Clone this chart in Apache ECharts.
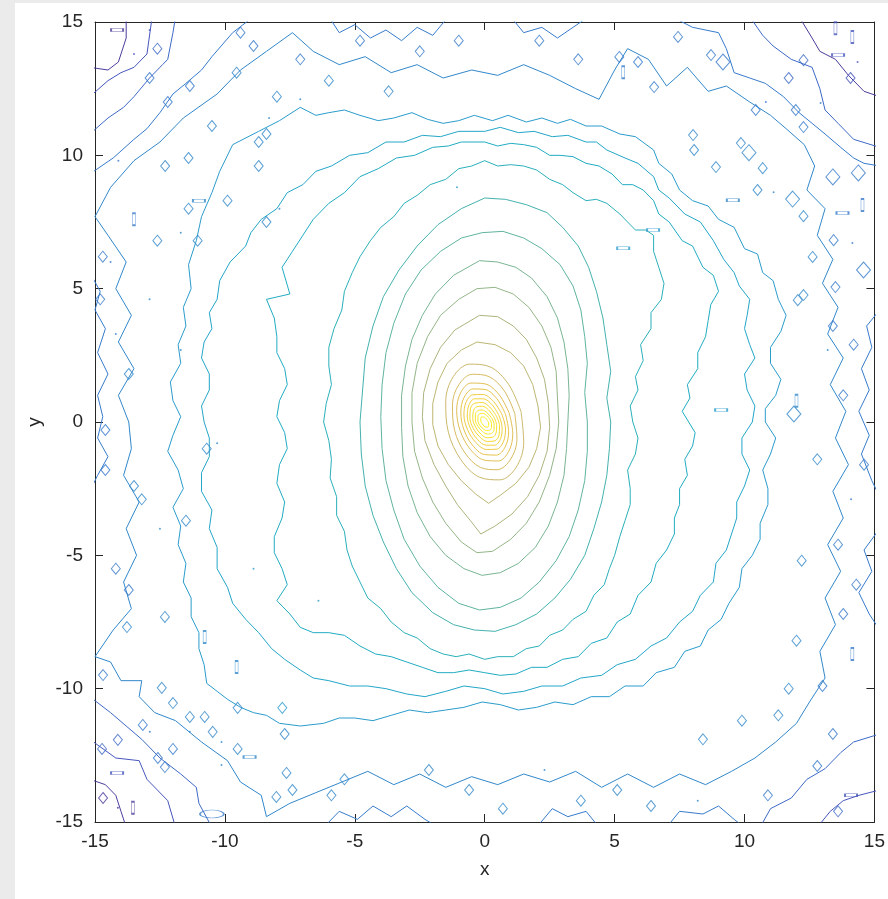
<!DOCTYPE html>
<html><head><meta charset="utf-8">
<script src="https://cdn.jsdelivr.net/npm/echarts@6/dist/echarts.min.js"></script>
<style>
html,body{margin:0;padding:0;background:#ebebeb;width:888px;height:899px;overflow:hidden}
#c{position:absolute;left:15px;top:3px;width:873px;height:896px;background:#ffffff}
</style>
</head><body><div id="c"></div>
<script>
// ---------- axis ticks ----------
const xTicks = [-15, -10, -5, 0, 5, 10, 15];
const yTicks = [-15, -10, -5, 0, 5, 10, 15];

// ---------- contour lines (data coords) ----------
const I1 = [[0.10,0.06],[0.03,0.15],[-0.05,0.19],[-0.12,0.19],[-0.15,0.13],[-0.15,0.04],[-0.10,-0.06],[-0.03,-0.15],[0.05,-0.19],[0.12,-0.19],[0.15,-0.13],[0.15,-0.04],[0.10,0.06]];
const I2 = [[0.19,0.12],[0.07,0.25],[-0.07,0.32],[-0.19,0.31],[-0.26,0.21],[-0.26,0.05],[-0.19,-0.12],[-0.07,-0.25],[0.07,-0.32],[0.19,-0.31],[0.26,-0.21],[0.26,-0.05],[0.19,0.12]];
const I3 = [[0.26,0.16],[0.09,0.35],[-0.10,0.45],[-0.27,0.42],[-0.36,0.29],[-0.36,0.07],[-0.26,-0.16],[-0.09,-0.35],[0.10,-0.45],[0.27,-0.42],[0.36,-0.29],[0.36,-0.07],[0.26,0.16]];
const I4 = [[0.35,0.19],[0.15,0.45],[-0.09,0.59],[-0.31,0.57],[-0.44,0.40],[-0.46,0.13],[-0.35,-0.19],[-0.15,-0.45],[0.09,-0.59],[0.31,-0.57],[0.44,-0.40],[0.46,-0.13],[0.35,0.19]];
const I5 = [[0.44,0.24],[0.19,0.56],[-0.10,0.73],[-0.38,0.71],[-0.55,0.50],[-0.57,0.15],[-0.44,-0.24],[-0.19,-0.56],[0.10,-0.73],[0.38,-0.71],[0.55,-0.50],[0.57,-0.15],[0.44,0.24]];
const I6 = [[0.55,0.24],[0.28,0.65],[-0.06,0.87],[-0.39,0.87],[-0.61,0.63],[-0.67,0.22],[-0.55,-0.24],[-0.28,-0.65],[0.06,-0.87],[0.39,-0.87],[0.61,-0.63],[0.67,-0.22],[0.55,0.24]];
const I7 = [[0.66,0.29],[0.34,0.77],[-0.07,1.03],[-0.46,1.02],[-0.72,0.74],[-0.80,0.26],[-0.66,-0.29],[-0.34,-0.77],[0.07,-1.03],[0.46,-1.02],[0.72,-0.74],[0.80,-0.26],[0.66,0.29]];
const I8 = [[0.80,0.29],[0.47,0.87],[0.01,1.22],[-0.45,1.24],[-0.79,0.93],[-0.92,0.37],[-0.80,-0.29],[-0.47,-0.87],[-0.01,-1.22],[0.45,-1.24],[0.79,-0.93],[0.92,-0.37],[0.80,0.29]];
const I9 = [[0.94,0.34],[0.55,1.03],[0.01,1.43],[-0.53,1.46],[-0.93,1.09],[-1.08,0.43],[-0.94,-0.34],[-0.55,-1.03],[-0.01,-1.43],[0.53,-1.46],[0.93,-1.09],[1.08,-0.43],[0.94,0.34]];
const I10 = [[1.16,0.31],[0.76,1.16],[0.17,1.70],[-0.48,1.79],[-1.00,1.39],[-1.24,0.63],[-1.16,-0.31],[-0.76,-1.16],[-0.17,-1.70],[0.48,-1.79],[1.00,-1.39],[1.24,-0.63],[1.16,0.31]];
const I11 = [[1.40,0.38],[0.92,1.41],[0.20,2.07],[-0.58,2.17],[-1.21,1.70],[-1.50,0.76],[-1.40,-0.38],[-0.92,-1.41],[-0.20,-2.07],[0.58,-2.17],[1.21,-1.70],[1.50,-0.76],[1.40,0.38]];

const M9 = [[-0.3,3.0],[0.4,2.9],[1.0,2.6],[1.5,2.1],[1.85,1.4],[2.05,0.6],[2.15,-0.2],[2.0,-1.0],[1.7,-1.7],[1.2,-2.3],[0.6,-2.75],[0.15,-3.05],[-0.35,-2.7],[-0.9,-2.2],[-1.4,-1.6],[-1.8,-0.9],[-2.0,-0.1],[-2.0,0.7],[-1.8,1.5],[-1.45,2.2],[-0.9,2.7],[-0.3,3.0]];
const M8 = [[-0.2,4.0],[0.5,3.95],[1.1,3.6],[1.6,3.1],[2.0,2.4],[2.3,1.6],[2.45,0.7],[2.5,-0.2],[2.4,-1.1],[2.1,-2.0],[1.65,-2.8],[1.05,-3.45],[0.4,-3.9],[-0.15,-4.2],[-0.55,-3.7],[-1.05,-3.1],[-1.5,-2.4],[-1.95,-1.6],[-2.3,-0.7],[-2.4,0.2],[-2.35,1.1],[-2.1,2.0],[-1.7,2.8],[-1.15,3.45],[-0.2,4.0]];
const M7 = [[-0.3,5.0],[0.4,5.05],[1.1,4.8],[1.7,4.3],[2.2,3.6],[2.55,2.8],[2.75,1.9],[2.8,0.9],[2.85,0.0],[2.75,-1.0],[2.5,-2.0],[2.1,-3.0],[1.6,-3.8],[1.0,-4.4],[0.3,-4.85],[-0.3,-4.9],[-0.9,-4.5],[-1.5,-3.8],[-2.0,-3.0],[-2.4,-2.1],[-2.7,-1.1],[-2.8,0.0],[-2.8,1.1],[-2.6,2.2],[-2.2,3.2],[-1.7,4.0],[-1.0,4.6],[-0.3,5.0]];
const M6 = [[-0.2,6.05],[0.5,6.0],[1.2,5.8],[1.8,5.4],[2.4,4.7],[2.8,3.9],[3.05,3.0],[3.2,2.0],[3.25,1.0],[3.2,0.0],[3.15,-1.0],[3.05,-2.0],[2.8,-3.0],[2.45,-3.9],[1.95,-4.7],[1.3,-5.3],[0.6,-5.65],[-0.1,-5.75],[-0.8,-5.5],[-1.5,-5.0],[-2.1,-4.3],[-2.6,-3.4],[-2.95,-2.4],[-3.15,-1.3],[-3.2,-0.2],[-3.2,1.0],[-3.05,2.1],[-2.8,3.1],[-2.4,4.0],[-1.9,4.8],[-1.2,5.5],[-0.2,6.05]];
const M5 = [[-0.1,7.1],[0.7,7.15],[1.5,6.9],[2.2,6.5],[2.9,5.9],[3.4,5.1],[3.7,4.2],[3.85,3.2],[3.95,2.2],[3.85,1.1],[3.95,0.0],[3.95,-1.1],[3.85,-2.2],[3.6,-3.3],[3.25,-4.3],[2.75,-5.2],[2.1,-6.0],[1.4,-6.6],[0.6,-6.95],[-0.2,-7.05],[-1.0,-6.8],[-1.8,-6.2],[-2.5,-5.4],[-3.1,-4.4],[-3.5,-3.3],[-3.8,-2.2],[-3.95,-1.0],[-4.0,0.2],[-3.95,1.4],[-3.8,2.6],[-3.5,3.7],[-3.05,4.8],[-2.45,5.7],[-1.7,6.4],[-0.9,6.9],[-0.1,7.1]];
const M4 = [[0.0,8.4],[0.8,8.35],[1.6,8.15],[2.4,7.85],[3.0,7.3],[3.6,6.6],[4.0,5.8],[4.3,4.9],[4.55,3.9],[4.7,2.9],[4.85,1.9],[4.7,0.9],[4.85,0.0],[4.8,-1.0],[4.7,-2.0],[4.5,-3.0],[4.2,-4.0],[3.85,-5.0],[3.3,-5.9],[2.7,-6.6],[2.0,-7.2],[1.2,-7.6],[0.4,-7.85],[-0.4,-7.8],[-1.2,-7.6],[-2.0,-7.15],[-2.8,-6.4],[-3.4,-5.5],[-3.9,-4.5],[-4.3,-3.5],[-4.6,-2.4],[-4.75,-1.2],[-4.8,0.0],[-4.7,1.2],[-4.6,2.4],[-4.3,3.6],[-3.9,4.7],[-3.3,5.7],[-2.6,6.6],[-1.8,7.4],[-0.9,8.0],[0.0,8.4]];
const M3 = [[0.0,9.8],[0.5,9.6],[1.0,9.65],[1.5,9.6],[2.0,9.45],[2.5,9.1],[3.0,8.9],[3.4,8.6],[3.9,8.3],[4.3,8.35],[4.7,8.2],[5.2,7.8],[5.8,7.2],[6.2,7.2],[6.5,7.0],[6.5,6.4],[6.7,5.8],[6.9,5.2],[6.8,4.6],[6.4,4.1],[6.4,3.5],[6.0,2.9],[6.1,2.3],[5.8,1.7],[5.9,1.2],[5.6,0.6],[5.7,0.0],[5.9,-0.6],[5.8,-1.2],[5.5,-1.8],[5.6,-2.5],[5.6,-3.1],[5.4,-3.7],[5.2,-4.3],[5.0,-5.0],[4.8,-5.5],[4.6,-6.1],[4.2,-6.5],[3.9,-7.1],[3.4,-7.4],[3.0,-7.8],[2.5,-8.0],[2.1,-8.4],[1.6,-8.5],[1.1,-8.8],[0.5,-8.8],[0.0,-8.9],[-0.6,-8.7],[-1.1,-8.8],[-1.6,-8.7],[-2.1,-8.5],[-2.6,-8.1],[-3.1,-7.9],[-3.6,-7.5],[-4.0,-7.0],[-4.5,-6.6],[-4.8,-6.0],[-5.1,-5.4],[-5.3,-4.8],[-5.4,-4.1],[-5.7,-3.5],[-5.7,-2.8],[-5.95,-2.1],[-5.9,-1.4],[-6.0,-0.7],[-6.2,0.0],[-6.1,0.7],[-5.9,1.4],[-6.0,2.1],[-6.0,2.8],[-5.8,3.5],[-5.5,4.2],[-5.4,4.9],[-5.1,5.6],[-4.8,6.2],[-4.4,6.8],[-4.0,7.3],[-3.5,7.7],[-3.1,8.2],[-2.6,8.5],[-2.1,8.9],[-1.5,9.1],[-1.0,9.5],[-0.5,9.6],[0.0,9.8]];
const M2 = [[0.0,10.5],[0.5,10.35],[1.0,10.45],[1.5,10.4],[2.0,10.3],[2.5,10.0],[2.9,10.0],[3.4,9.95],[3.9,9.7],[4.4,9.6],[4.9,9.3],[5.3,8.9],[5.7,8.9],[6.1,8.7],[6.5,8.3],[6.7,7.8],[7.1,7.5],[7.6,6.8],[8.0,6.6],[8.4,5.8],[8.8,5.5],[9.0,4.9],[8.7,4.4],[8.6,3.8],[8.5,3.2],[8.2,2.6],[8.2,2.0],[7.8,1.4],[7.9,0.9],[7.6,0.4],[8.1,-0.4],[8.0,-0.9],[7.7,-1.4],[7.8,-2.0],[7.5,-2.5],[7.5,-3.1],[7.3,-3.6],[7.3,-4.2],[7.0,-4.8],[6.6,-5.3],[6.4,-6.0],[5.9,-6.5],[5.6,-7.2],[5.1,-7.5],[4.7,-8.1],[4.1,-8.3],[3.6,-8.8],[3.0,-8.9],[2.4,-9.2],[1.8,-9.2],[1.2,-9.45],[0.6,-9.5],[0.0,-9.4],[-0.6,-9.3],[-1.2,-9.4],[-1.8,-9.4],[-2.4,-9.2],[-3.0,-9.0],[-3.6,-8.8],[-4.2,-8.7],[-4.8,-8.4],[-5.4,-8.0],[-6.0,-7.9],[-6.6,-7.9],[-7.1,-7.7],[-7.5,-7.2],[-8.0,-6.7],[-7.6,-6.1],[-7.8,-5.5],[-8.1,-4.9],[-8.1,-4.3],[-7.8,-3.6],[-7.7,-3.0],[-8.0,-2.3],[-7.9,-1.6],[-7.6,-1.0],[-7.7,-0.4],[-8.0,0.2],[-7.9,0.8],[-7.6,1.4],[-7.7,2.0],[-8.0,2.6],[-8.0,3.2],[-8.1,3.9],[-8.4,4.6],[-7.5,4.8],[-7.8,5.8],[-7.4,6.4],[-7.0,7.0],[-6.6,7.6],[-6.0,8.2],[-5.4,8.6],[-4.8,9.2],[-4.1,9.5],[-3.4,9.9],[-2.7,10.0],[-2.0,10.3],[-1.4,10.35],[-0.9,10.5],[0.0,10.5]];
const M1 = [[0.0,10.9],[0.6,11.05],[1.3,10.85],[1.9,10.9],[2.6,10.7],[3.2,10.75],[3.9,10.5],[4.3,10.5],[4.7,10.2],[5.4,9.9],[5.9,9.7],[6.5,9.2],[6.7,8.7],[7.1,8.4],[7.7,7.8],[8.3,7.5],[8.8,6.8],[9.2,6.1],[9.6,5.6],[9.8,5.1],[10.2,4.6],[10.1,4.0],[10.0,3.5],[10.2,2.9],[10.4,2.4],[10.0,1.8],[10.1,1.2],[10.4,0.6],[10.3,0.0],[9.9,-0.6],[9.9,-1.2],[10.2,-1.8],[10.0,-2.4],[9.7,-3.0],[9.7,-3.6],[9.5,-4.2],[9.3,-4.8],[8.9,-5.3],[8.8,-6.0],[8.3,-6.5],[8.0,-7.1],[7.5,-7.5],[7.0,-8.1],[6.4,-8.4],[5.8,-8.9],[5.1,-9.1],[4.5,-9.5],[3.7,-9.6],[3.0,-9.9],[2.2,-9.9],[1.5,-10.1],[0.7,-10.2],[0.0,-10.0],[-0.8,-9.9],[-1.5,-10.1],[-2.3,-10.3],[-3.0,-10.2],[-3.8,-10.0],[-4.5,-9.9],[-5.2,-9.9],[-6.0,-9.7],[-6.6,-9.6],[-7.1,-9.3],[-7.7,-8.9],[-8.2,-8.5],[-8.7,-7.9],[-9.2,-7.4],[-9.7,-6.8],[-9.9,-6.2],[-10.3,-5.5],[-10.3,-4.7],[-10.6,-4.0],[-10.5,-3.3],[-10.9,-2.6],[-10.9,-1.9],[-10.6,-1.3],[-10.6,-0.6],[-10.8,0.0],[-10.9,0.6],[-10.6,1.2],[-10.6,1.8],[-10.9,2.4],[-10.8,3.0],[-10.5,3.5],[-10.6,4.1],[-10.3,4.6],[-10.2,5.3],[-9.8,6.0],[-9.2,6.6],[-9.0,7.1],[-8.6,7.6],[-8.0,8.0],[-7.6,8.6],[-7.0,8.9],[-6.5,9.4],[-5.9,9.6],[-5.2,10.0],[-4.5,10.1],[-3.8,10.5],[-3.1,10.5],[-2.4,10.75],[-1.7,10.7],[-1.0,10.9],[0.0,10.9]];
const M0 = [[0.3,11.3],[0.9,11.5],[1.6,11.25],[2.2,11.4],[2.8,11.2],[3.3,11.35],[3.9,11.1],[4.5,11.1],[5.2,10.8],[5.8,10.7],[6.5,10.2],[6.7,9.7],[7.2,9.3],[7.5,8.7],[8.0,8.3],[8.6,8.1],[9.0,7.6],[9.6,7.3],[10.0,6.5],[10.5,6.3],[10.7,5.6],[11.1,5.3],[11.3,4.6],[11.6,4.0],[11.4,3.4],[11.0,2.8],[11.0,2.2],[11.4,1.6],[11.2,1.0],[10.8,0.5],[10.8,0.0],[11.2,-0.6],[11.0,-1.2],[10.7,-1.8],[10.9,-2.5],[10.9,-3.1],[10.6,-3.8],[10.6,-4.4],[10.3,-5.0],[9.9,-5.5],[9.8,-6.2],[9.4,-6.8],[9.1,-7.4],[8.6,-7.8],[8.3,-8.4],[7.7,-8.6],[7.3,-9.2],[6.6,-9.4],[6.1,-9.9],[5.4,-9.9],[4.8,-10.3],[4.1,-10.3],[3.4,-10.6],[2.7,-10.5],[2.0,-10.7],[1.3,-10.8],[0.6,-10.6],[-0.1,-10.5],[-0.8,-10.7],[-1.5,-10.8],[-2.2,-10.9],[-2.9,-10.8],[-3.6,-11.0],[-4.3,-11.2],[-5.0,-11.1],[-5.6,-11.1],[-6.2,-11.3],[-7.1,-11.4],[-7.9,-11.3],[-8.4,-11.0],[-8.9,-10.9],[-9.4,-10.7],[-9.9,-10.4],[-10.3,-10.1],[-10.7,-9.8],[-10.8,-9.1],[-11.0,-8.5],[-11.0,-7.9],[-11.3,-7.3],[-11.3,-6.6],[-11.6,-6.0],[-11.5,-5.3],[-11.8,-4.6],[-11.7,-3.9],[-12.0,-3.2],[-11.6,-2.5],[-11.8,-1.8],[-12.2,-1.1],[-12.0,-0.5],[-11.7,0.2],[-12.0,0.8],[-12.1,1.5],[-11.7,2.2],[-11.8,2.9],[-11.5,3.6],[-11.6,4.3],[-11.3,5.0],[-11.4,5.9],[-11.1,6.8],[-10.9,7.7],[-10.5,8.6],[-10.2,9.4],[-9.7,10.4],[-8.7,10.9],[-7.9,11.3],[-7.1,11.8],[-6.5,11.5],[-6.0,11.6],[-5.4,11.7],[-4.8,11.5],[-4.1,11.3],[-3.5,11.4],[-2.8,11.6],[-2.2,11.35],[-1.6,11.2],[-1.0,11.3],[-0.4,11.5],[0.3,11.3]];
const O1 = [[-15.0,7.7],[-14.4,8.8],[-13.5,9.8],[-12.5,10.5],[-11.6,11.4],[-10.3,12.3],[-9.4,13.2],[-8.4,13.9],[-7.4,14.6],[-6.6,13.9],[-5.6,13.4],[-4.6,13.7],[-3.6,13.1],[-2.6,13.4],[-1.6,12.9],[-0.5,13.2],[0.5,13.0],[1.5,13.4],[2.5,13.0],[3.5,12.5],[4.4,12.1],[5.0,13.2],[5.5,14.0],[6.3,13.6],[7.0,12.6],[7.8,13.3],[8.6,12.4],[9.3,12.6],[10.2,12.0],[11.0,11.5],[11.6,11.0],[12.3,10.4],[12.7,9.6],[12.4,8.7],[13.1,8.0],[12.8,7.0],[13.4,6.1],[13.0,5.2],[13.6,4.3],[13.2,3.3],[13.8,2.4],[13.3,1.4],[13.9,0.4],[13.5,-0.6],[14.0,-1.6],[13.4,-2.6],[13.8,-3.6],[13.2,-4.6],[13.7,-5.6],[13.1,-6.6],[13.5,-7.6],[12.9,-8.6],[13.1,-9.6],[12.5,-10.5],[12.0,-11.3],[11.2,-12.0],[10.4,-12.6],[9.5,-13.1],[8.5,-13.6],[7.5,-13.2],[6.5,-13.7],[5.5,-13.2],[4.5,-13.7],[3.5,-13.1],[2.5,-13.5],[1.5,-13.2],[0.5,-13.6],[-0.5,-13.3],[-1.5,-13.7],[-2.5,-13.2],[-3.5,-13.6],[-4.5,-13.1],[-5.5,-13.5],[-6.5,-13.9],[-7.5,-14.3],[-8.4,-14.8],[-8.6,-14.0],[-9.4,-13.5],[-9.9,-12.7],[-10.9,-12.0],[-11.9,-11.2],[-12.7,-10.9],[-13.3,-10.3],[-13.2,-9.7],[-14.0,-9.7],[-14.4,-9.0],[-15.0,-8.8],[-14.3,-7.8],[-13.6,-7.0],[-13.9,-6.0],[-13.4,-5.0],[-13.8,-4.0],[-13.3,-3.0],[-13.9,-2.0],[-13.6,-1.0],[-13.7,0.0],[-14.1,1.0],[-13.5,2.0],[-14.1,3.0],[-13.6,4.0],[-14.2,5.0],[-13.8,6.0],[-14.5,7.0],[-15.0,7.7]];

// arcs cut by the frame
const TL_O2 = [[-15.2,9.3],[-14.3,9.9],[-13.5,10.6],[-13.0,11.0],[-12.5,11.6],[-12.0,12.3],[-11.5,12.7],[-10.9,13.2],[-10.5,13.7],[-9.7,14.6],[-8.9,15.2]];
const TL_O3 = [[-15.2,10.8],[-14.5,11.4],[-13.9,11.8],[-13.5,12.2],[-12.9,12.9],[-12.4,13.4],[-12.2,13.6],[-12.0,14.6],[-11.9,15.2]];
const TL_O4 = [[-15.2,12.2],[-14.5,12.8],[-14.0,13.1],[-13.5,13.3],[-13.0,13.8],[-12.8,15.2]];
const TL_O5 = [[-15.2,13.3],[-14.5,13.2],[-14.1,13.5],[-13.8,14.4],[-13.8,15.2]];
const TR_O2 = [[7.2,15.2],[8.0,14.8],[9.0,14.6],[9.3,14.0],[9.6,13.1],[10.2,12.9],[10.8,12.7],[11.5,12.2],[12.1,11.6],[12.6,11.2],[13.1,10.8],[13.7,10.3],[14.2,9.9],[14.6,9.7],[15.2,9.6]];
const TR_O3 = [[10.2,15.2],[10.7,14.5],[11.1,14.1],[11.8,13.6],[12.6,13.3],[12.9,12.5],[13.1,11.7],[13.6,11.2],[14.2,10.6],[15.2,10.3]];
const TR_O4 = [[12.1,15.2],[12.6,14.4],[12.9,13.9],[13.5,13.6],[14.0,13.0],[14.6,12.4],[15.2,12.2]];
const BL_O2 = [[-15.2,-10.3],[-14.4,-10.9],[-13.8,-11.4],[-13.2,-11.9],[-12.5,-12.6],[-11.7,-13.2],[-11.1,-13.7],[-11.0,-14.3],[-10.5,-15.2]];
const BL_O3 = [[-15.2,-11.9],[-14.2,-12.6],[-13.3,-12.7],[-13.0,-13.4],[-12.2,-14.2],[-11.9,-15.2]];
const BL_O4 = [[-15.2,-13.4],[-14.6,-13.6],[-14.2,-14.0],[-14.0,-14.6],[-13.8,-15.2]];
const BR_O2 = [[10.6,-15.2],[11.0,-14.5],[11.8,-14.1],[12.4,-13.4],[13.1,-13.0],[13.7,-12.4],[14.2,-12.0],[15.2,-11.7]];
const BR_O3 = [[12.8,-15.2],[13.3,-14.6],[13.8,-14.2],[14.4,-14.0],[15.2,-13.8]];
const LE = [[-15.2,5.6],[-14.8,4.9],[-15.0,4.2],[-14.6,3.5],[-14.9,2.6],[-14.5,1.8],[-14.9,1.0],[-14.7,0.2],[-14.9,-0.6],[-14.5,-1.3],[-14.9,-2.0],[-15.2,-2.6]];
const RE = [[15.2,4.2],[14.7,3.6],[14.9,2.8],[14.5,2.0],[14.8,1.2],[14.4,0.4],[14.8,-0.5],[14.5,-1.2],[14.9,-2.2],[15.2,-2.8]];
const RE2 = [[15.2,-4.0],[14.6,-4.8],[14.9,-5.6],[14.4,-6.4],[14.8,-7.2],[15.2,-7.8]];
const TE = [[-6.0,15.2],[-5.6,14.6],[-5.0,14.9],[-4.4,14.4],[-3.8,14.7],[-3.2,14.3],[-2.6,14.8],[-2.0,14.5],[-1.4,15.2]];
const TE2 = [[1.0,15.2],[1.5,14.6],[2.2,14.8],[2.8,14.4],[3.4,14.8],[4.0,15.2]];
const BE = [[-6.2,-15.2],[-5.6,-14.6],[-4.9,-14.9],[-4.3,-14.4],[-3.6,-14.8],[-3.0,-14.4],[-2.3,-14.9],[-1.8,-15.2]];
const BE2 = [[2.0,-15.2],[2.6,-14.5],[3.2,-14.8],[3.9,-14.6],[4.4,-15.2]];
const BE3 = [[7.0,-15.2],[7.5,-14.6],[8.4,-14.7],[9.0,-14.4],[9.6,-14.9],[10.0,-15.2]];

// contour level of each line (0 = lowest ... 25 = highest)
const contourLines = [
  [TL_O5,0],[BL_O4,0],[TR_O4,0],
  [TL_O4,1],[BL_O3,1],[BR_O3,1],
  [TL_O3,2],[TR_O3,2],[BL_O2,2],[BR_O2,2],
  [TL_O2,3],[TR_O2,3],[LE,3],[RE,3],[RE2,3],[TE,3],[TE2,3],[BE,3],[BE2,3],[BE3,3],
  [O1,4],[M0,5],[M1,6],[M2,7],[M3,8],[M4,9],[M5,10],[M6,11],[M7,12],[M8,13],[M9,14],
  [I11,15],[I10,16],[I9,17],[I8,18],[I7,19],[I6,20],[I5,21],[I4,22],[I3,23],[I2,24],[I1,25]
];

// small isolated contours: [x, y, shape kind, level]
const blobs = [
 [-14.15,14.7,4,0],[-12.9,14.7,0,1],[-12.6,14.0,1,2],[-13.5,13.8,0,1],[-12.9,12.9,1,3],[-11.35,12.6,1,3],[-12.2,12.0,1,3],[-10.5,11.1,1,4],[-11.4,9.9,1,4],[-12.3,9.6,1,4],[-14.1,9.8,0,3],[-11.0,8.3,4,4],[-11.4,8.0,1,4],[-9.9,8.3,1,4],[-11.7,7.1,0,4],[-12.6,6.8,1,4],[-11.05,6.8,1,4],[-13.5,7.6,3,3],[-14.7,6.2,1,3],[-14.4,6.0,0,3],[-9.55,13.1,1,4],[-9.4,14.6,1,3],[-8.9,14.1,1,3],[-8.0,12.2,1,4],[-8.3,11.4,0,4],[-8.4,10.8,1,4],[-8.7,10.5,1,4],[-8.7,9.6,1,4],[-7.9,8.0,0,4],[-8.4,7.5,1,4],
 [7.44,14.44,1,3],[8.71,13.76,1,3],[9.17,13.5,2,3],[5.18,13.69,1,3],[5.33,13.12,3,3],[5.9,13.5,1,3],[6.52,12.56,1,3],[11.7,12.9,1,2],[12.27,13.57,1,2],[13.5,14.77,3,1],[14.15,14.44,3,1],[13.6,13.76,4,1],[14.35,13.5,0,1],[14.08,12.9,1,1],[10.43,11.7,1,3],[10.82,12.0,0,3],[11.97,11.7,1,3],[12.27,11.06,1,3],[12.93,11.96,0,3],[8.02,10.76,1,4],[8.06,10.2,1,4],[9.86,10.46,1,4],[8.9,9.56,1,4],[10.17,10.1,2,4],[10.7,9.52,1,4],[10.5,8.7,1,4],[11.12,8.62,0,4],[11.85,8.36,2,4],[12.27,7.72,1,4],[13.4,9.19,2,3],[14.38,9.34,2,3],[14.54,8.14,3,3],[13.77,7.84,4,3],[13.43,6.82,1,3],[14.15,6.71,0,3],[12.62,6.19,1,4],[14.58,5.7,2,3],[13.5,5.06,1,3],[12.27,4.76,1,4],[6.48,7.2,4,5],[5.33,6.52,4,5],[9.55,8.32,4,4],
 [-12.31,-7.31,1,4],[-13.77,-7.69,1,4],[-10.78,-8.06,3,4],[-9.55,-9.19,3,4],[-14.69,-9.49,1,3],[-12.43,-9.97,1,4],[-12.0,-10.54,1,4],[-9.51,-10.72,1,4],[-7.79,-10.72,1,5],[-11.35,-11.06,1,4],[-10.78,-11.06,1,4],[-13.16,-11.36,1,3],[-12.89,-11.62,0,3],[-11.35,-11.62,0,4],[-10.47,-11.62,1,4],[-14.12,-11.92,1,2],[-10.13,-12.0,0,4],[-12.0,-12.26,1,3],[-9.51,-12.26,1,4],[-9.05,-12.56,4,4],[-14.73,-12.26,1,2],[-12.58,-12.6,1,3],[-10.13,-12.86,0,4],[-12.31,-12.94,1,3],[-14.15,-13.16,4,1],[-7.63,-13.16,1,4],[-7.4,-13.8,1,4],[-8.02,-14.06,1,4],[-14.69,-14.1,1,0],[-13.54,-14.47,3,0],[-14.12,-14.47,0,0],[-10.5,-14.7,5,3],
 [12.05,4.57,1,4],[13.4,3.6,1,3],[14.2,2.9,1,3],[13.2,2.7,0,4],[13.8,1.0,1,3],[12.0,0.8,3,4],[9.1,0.45,4,5],[11.9,0.3,2,4],[12.8,-1.4,1,4],[14.6,-1.6,1,3],[14.1,-2.9,0,3],[13.6,-4.6,1,3],[12.2,-5.2,1,4],[14.3,-6.1,1,3],[13.8,-7.2,1,3],[12.0,-8.2,1,4],[14.15,-8.7,3,3],[13.0,-9.9,1,3],[11.7,-10.0,1,4],[11.3,-11.0,1,4],[13.4,-11.7,1,3],[9.9,-11.2,1,4],[8.4,-11.9,1,4],[12.8,-12.9,1,3],[14.1,-14.0,4,1],[13.6,-14.6,1,2],[10.9,-14.0,1,3],[6.4,-14.4,1,4],[8.2,-14.2,0,4],[5.1,-13.8,1,4],[3.7,-14.2,1,4],[2.3,-13.05,0,4],[-2.15,-13.05,1,4],[-5.4,-13.4,1,4],[-5.9,-14.0,1,4],[-0.6,-13.8,1,4],[0.7,-14.5,1,4],[-7.7,-11.7,1,4],
 [-10.7,-1.0,1,4],[-10.3,-0.8,0,4],[-14.6,-1.8,1,3],[-13.5,-2.4,1,4],[-13.2,-2.9,1,4],[-14.2,-5.5,1,3],[-13.7,-6.3,1,3],[-8.9,-5.5,0,5],[-6.4,-6.7,0,5],[-11.5,-3.7,1,4],[-12.5,-4.0,0,4],[-14.6,-0.3,1,3],[-14.8,4.6,1,3],[-14.2,3.3,0,3],[-12.9,4.6,0,4],[-13.7,1.8,1,4],[-11.7,2.7,0,4],
 [-7.1,13.6,1,3],[-6.0,12.8,1,4],[-2.5,13.9,1,3],[-1.0,14.3,1,3],[2.1,14.3,1,3],[3.6,13.6,1,3],[-4.8,14.3,1,3],[-7.1,12.1,0,4],[-3.7,12.4,1,4],[-1.07,8.8,0,5]
];

// ---------- styles ----------
const levelColors = ['#4b3d9c','#4656bc','#3d69c6','#377bcb','#3288cb','#2b9ccc','#24a6c8','#21acc2','#2bb0ba','#45b2ae','#5fb4a0','#7ab594','#94b688','#aab67e','#bcb774','#cbb86a','#d6bb5f','#e0bf55','#e8c44a','#eecb42','#f3d23a','#f6d935','#f8e030','#f9e62c','#faec26','#faf020'];
const blobShapes = [
  {symbol:'circle', size:[2,2], fill:true},
  {symbol:'diamond', size:[9,11]},
  {symbol:'diamond', size:[14,16]},
  {symbol:'rect', size:[3,12]},
  {symbol:'rect', size:[12,3]},
  {symbol:'circle', size:[24,8]}
];
const FONT = 'Liberation Sans, Arial, Helvetica, sans-serif';
const TXT = '#262626';

const series = contourLines.map(([pts, lvl]) => ({
  type:'line', data: pts, symbol:'none', showSymbol:false, silent:true, clip:true,
  smooth: lvl >= 15 ? 0.35 : false,
  lineStyle:{color: levelColors[lvl], width:1},
  animation:false, z: 2
}));
series.push({
  type:'scatter', silent:true, clip:true, animation:false, z:2,
  data: blobs.map(b => {
    const s = blobShapes[b[2]], c = levelColors[b[3]];
    return {value:[b[0], b[1]], symbol:s.symbol, symbolSize:s.size,
      itemStyle: s.fill ? {color:c, borderWidth:0} : {color:'rgba(0,0,0,0)', borderColor:c, borderWidth:1}};
  })
});

function axisCommon(show, ticks){
  return {
    type:'value', min: ticks[0], max: ticks[ticks.length-1], interval: ticks[1]-ticks[0],
    axisLine:{show:true, onZero:false, lineStyle:{color:TXT, width:1}},
    axisTick:{show:true, inside:true, length:8, lineStyle:{color:TXT, width:1}},
    axisLabel:{show:show, fontSize:19, color:TXT, fontFamily:FONT},
    splitLine:{show:false}
  };
}
const xa0 = Object.assign(axisCommon(true, xTicks), {position:'bottom', name:'x', nameLocation:'middle', nameGap:38,
  nameTextStyle:{fontSize:19, color:TXT, fontFamily:FONT}});
xa0.axisLabel.margin = 10;
const xa1 = Object.assign(axisCommon(false, xTicks), {position:'top'});
const ya0 = Object.assign(axisCommon(true, yTicks), {position:'left', name:'y', nameLocation:'middle', nameGap:49, nameRotate:90,
  nameTextStyle:{fontSize:19, color:TXT, fontFamily:FONT}});
ya0.axisLabel.margin = 12;
const ya1 = Object.assign(axisCommon(false, yTicks), {position:'right'});

const chart = echarts.init(document.getElementById('c'), null, {renderer:'canvas'});
chart.setOption({
  animation:false,
  backgroundColor:'#ffffff',
  grid:{left:80, top:19, width:783, height:800, containLabel:false},
  xAxis:[xa0, xa1],
  yAxis:[ya0, ya1],
  series: series
});
</script></body></html>
